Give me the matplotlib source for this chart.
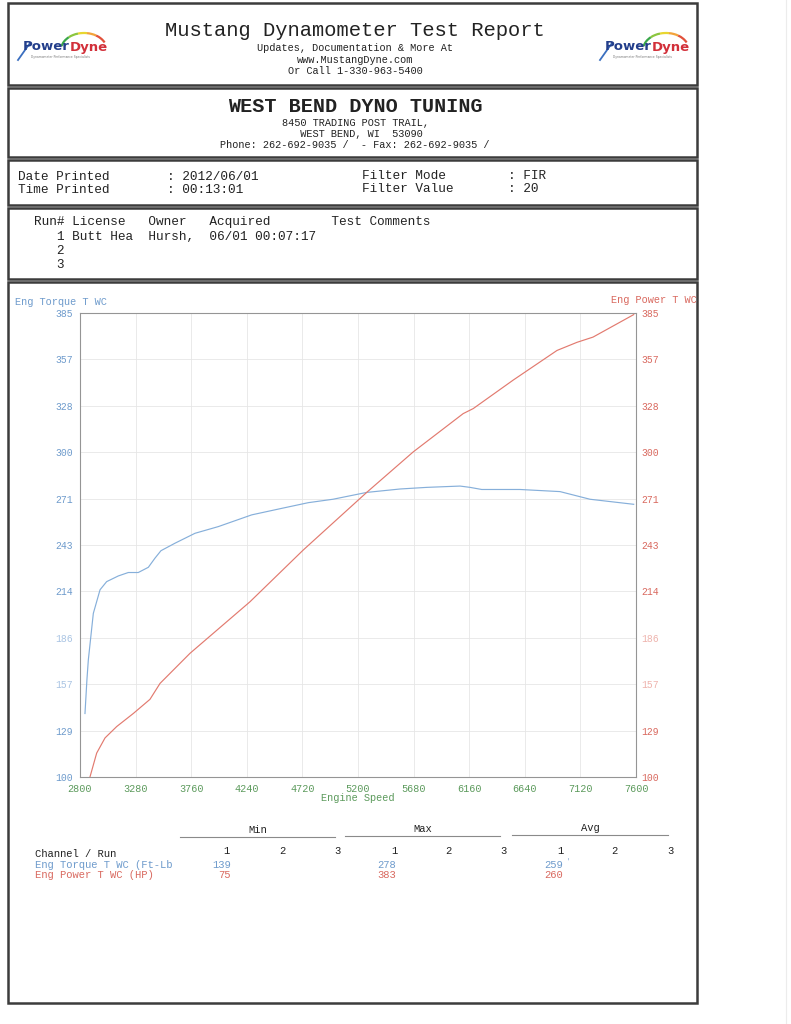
import matplotlib
matplotlib.use("Agg")
import matplotlib.pyplot as plt
from matplotlib.transforms import Affine2D
from matplotlib.patches import Rectangle, Arc
from matplotlib.lines import Line2D
import numpy as np

# dyno run 1
torque_rpm = [2843, 2860, 2872, 2915, 2973, 3030, 3131, 3217, 3303, 3390, 3447, 3499,
              3620, 3793, 3994, 4282, 4541, 4771, 4984, 5275, 5563, 5794, 6081, 6167,
              6268, 6599, 6944, 7203, 7580]
torque = [139, 160, 172, 200.5, 215, 220, 223.5, 225.6, 225.6, 228.8, 234.4, 239,
          243.6, 249.7, 253.8, 261, 265, 268.5, 270.6, 274.8, 276.9, 277.9, 278.7, 277.9,
          276.6, 276.6, 275.3, 270.6, 267.5]
power_rpm = [2843, 2886, 2944, 3016, 3117, 3260, 3404, 3491, 3750, 4267, 4727, 4829,
             5275, 5677, 6108, 6195, 6540, 6918, 7091, 7229, 7580]
power = [75, 100, 114.7, 124, 131, 139, 147.7, 157.5, 176, 207.6, 239.4, 246,
         274.8, 299.7, 323.2, 326.3, 343.8, 362, 367, 370.2, 384]

x_ticks = [2800, 3280, 3760, 4240, 4720, 5200, 5680, 6160, 6640, 7120, 7600]
y_labels = ["100", "129", "157", "186", "214", "243", "271", "300", "328", "357", "385"]

channels = ["Eng Torque T WC (Ft-Lb", "Eng Power T WC (HP)"]
min_vals = ["139", "75"]
max_vals = ["278", "383"]
avg_vals = ["259", "260"]

W, H = 791, 1024
BLUE = "#6e9bcc"
RED = "#d9695f"
GREEN = "#5c9a5c"
MONO = "Liberation Mono"

fig = plt.figure(figsize=(W / 100, H / 100), dpi=100)
T = Affine2D().scale(1 / W, -1 / H).translate(0, 1) + fig.transFigure


def txt(x, y, s, size=7.5, color="#222222", ha="left", weight="normal", family=MONO):
    fig.text(x, y, s, transform=T, fontsize=size, color=color, ha=ha, va="center",
             fontweight=weight, family=family)


def box(x0, y0, x1, y1):
    fig.add_artist(Rectangle((x0, y0), x1 - x0, y1 - y0, transform=T, fill=False,
                             lw=1.8, ec="#3c3c3c"))


def hline(x0, x1, y, color="#8a8a8a", lw=0.8):
    fig.add_artist(Line2D([x0, x1], [y, y], transform=T, color=color, lw=lw))


def logo(x0):
    # swoosh + "PowerDyne" + rainbow arc
    fig.add_artist(Line2D([x0 + 1, x0 + 13], [60, 43], transform=T, color="#3b6fc0", lw=1.3))
    txt(x0 + 53, 47, "Power", size=9.5, color="#233e8b", ha="right", weight="bold",
        family="DejaVu Sans")
    txt(x0 + 53, 47, "Dyne", size=9.5, color="#d2303a", ha="left", weight="bold",
        family="DejaVu Sans")
    cols = ["#3aa84a", "#8cc63f", "#e8d630", "#f2a33a", "#e2503a"]
    for i, c in enumerate(cols):
        fig.add_artist(Arc((x0 + 67, 50), 46, 34, theta1=190 + i * 30, theta2=220 + i * 30,
                           transform=T, color=c, lw=1.6))
    txt(x0 + 14, 57, "Dynamometer Performance Specialists", size=2.2, color="#777777",
        family="DejaVu Sans")


# page boxes
box(8, 3, 697, 85)
box(8, 88, 697, 157)
box(8, 160, 697, 205)
box(8, 208, 697, 279)
box(8, 282, 697, 1003)
fig.add_artist(Line2D([786, 786], [0, H], transform=T, color="#ececec", lw=0.8))

# header
logo(17)
logo(599)
txt(355, 31, "Mustang Dynamometer Test Report", size=14.8, ha="center")
txt(355, 48, "Updates, Documentation & More At", size=7.4, ha="center")
txt(355, 60, "www.MustangDyne.com", size=7.4, ha="center")
txt(355, 71, "Or Call 1-330-963-5400", size=7.4, ha="center")

txt(355, 106, "WEST BEND DYNO TUNING", size=14.5, ha="center", weight="bold")
txt(355, 123, "8450 TRADING POST TRAIL,", size=7.4, ha="center")
txt(355, 134, "  WEST BEND, WI  53090", size=7.4, ha="center")
txt(355, 145, "Phone: 262-692-9035 /  - Fax: 262-692-9035 /", size=7.4, ha="center")

txt(18, 177, "Date Printed", size=9.2)
txt(167, 177, ": 2012/06/01", size=9.2)
txt(362, 176, "Filter Mode", size=9.2)
txt(508, 176, ": FIR", size=9.2)
txt(18, 190, "Time Printed", size=9.2)
txt(167, 190, ": 00:13:01", size=9.2)
txt(362, 189, "Filter Value", size=9.2)
txt(508, 189, ": 20", size=9.2)

txt(34, 222, "Run# License   Owner   Acquired        Test Comments", size=9.2)
txt(34, 237, "   1 Butt Hea  Hursh,  06/01 00:07:17", size=9.2)
txt(34, 251, "   2", size=9.2)
txt(34, 265, "   3", size=9.2)

# chart
ax = fig.add_axes([80 / W, 1 - 777 / H, 556 / W, 464 / H])
ax.plot(torque_rpm, torque, color="#86afda", lw=0.85)
ax.set_xlim(2800, 7600)
ax.set_ylim(100, 385)
ax.set_xticks(x_ticks)
ax.set_xticklabels([str(v) for v in x_ticks], family=MONO, fontsize=7.3, color=GREEN)
yt = np.linspace(100, 385, len(y_labels))
ax.set_yticks(yt)
ax.set_yticklabels(y_labels, family=MONO, fontsize=7, color=BLUE)
for lab in ax.get_yticklabels():
    if lab.get_text() in ("186", "157"):
        lab.set_color("#a9c4e3")
ax.tick_params(length=0, pad=5)
ax.grid(True, color="#e6e6e6", lw=0.6)
for s in ax.spines.values():
    s.set_color("#959595")
    s.set_linewidth(0.8)

ax2 = ax.twinx()
ax2.plot(power_rpm, power, color="#e27a6f", lw=0.85)
ax2.set_ylim(100, 385)
ax2.set_yticks(yt)
ax2.set_yticklabels(y_labels, family=MONO, fontsize=7, color=RED)
for lab in ax2.get_yticklabels():
    if lab.get_text() in ("186", "157"):
        lab.set_color("#eeb3ad")
ax2.tick_params(length=0, pad=4)
for s in ax2.spines.values():
    s.set_visible(False)

txt(15, 302, "Eng Torque T WC", size=7.4, color=BLUE)
txt(697, 300, "Eng Power T WC", size=7.4, color=RED, ha="right")
txt(358, 798, "Engine Speed", size=7.4, color=GREEN, ha="center")

# summary table
for name, x0, x1, y in [("Min", 180, 335, 837), ("Max", 345, 500, 836), ("Avg", 512, 668, 835)]:
    hline(x0, x1, y)
    txt((x0 + x1) / 2, y - 7, name, size=7.6, ha="center")
for i, cx in enumerate([226, 282, 337, 394, 448, 503, 560, 614, 670]):
    txt(cx, 851, str(i % 3 + 1), size=7.6, ha="center")
txt(35, 854, "Channel / Run", size=7.6)
row_colors = [BLUE, RED]
for r, name in enumerate(channels):
    y = 865 + r * 10
    txt(35, y, name, size=7.6, color=row_colors[r])
    txt(231, y, min_vals[r], size=7.6, color=row_colors[r], ha="right")
    txt(396, y, max_vals[r], size=7.6, color=row_colors[r], ha="right")
    txt(563, y, avg_vals[r], size=7.6, color=row_colors[r], ha="right")
txt(566, 861, "'", size=6, color="#9ab6d8")

fig.savefig("out.png", dpi=100, facecolor="white")
